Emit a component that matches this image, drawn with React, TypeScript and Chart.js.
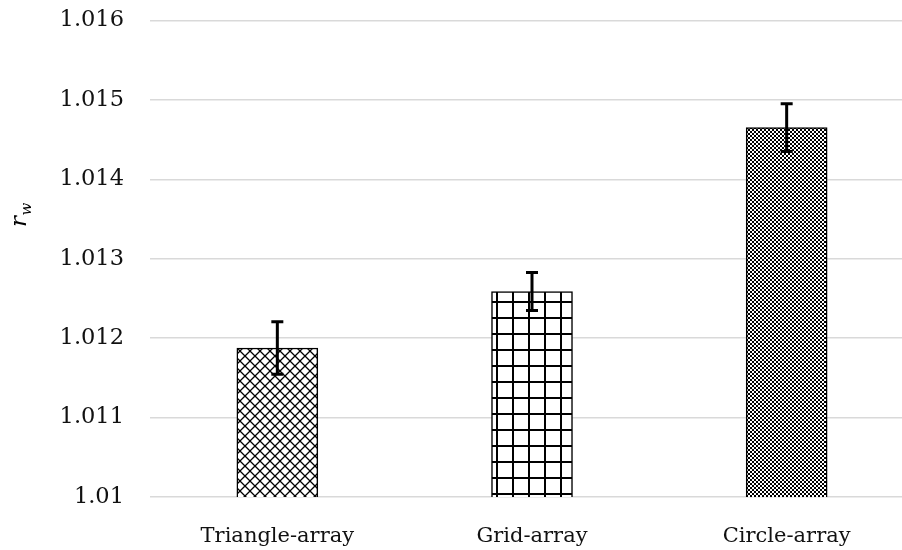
import React, { useEffect, useRef } from "react";
import { Chart, registerables } from "chart.js";

Chart.register(...registerables);

const categories = ["Triangle-array", "Grid-array", "Circle-array"];
const values = [1.011876, 1.012588, 1.014652];
const errors = [0.00033, 0.00024, 0.0003];
const yTickLabels = ["1.01", "1.011", "1.012", "1.013", "1.014", "1.015", "1.016"];
const Y_MIN = 1.01;
const Y_MAX = 1.016;
const Y_STEP = 0.001;

const FONT = "'DejaVu Serif', 'Liberation Serif', serif";
const SHIFT = 19;

function makeTile(size: number, draw: (c: CanvasRenderingContext2D) => void): CanvasPattern {
  const cv = document.createElement("canvas");
  cv.width = size;
  cv.height = size;
  const c = cv.getContext("2d")!;
  c.fillStyle = "#fff";
  c.fillRect(0, 0, size, size);
  draw(c);
  return c.createPattern(cv, "repeat")!;
}

function makePatterns(): CanvasPattern[] {
  const diag = makeTile(10, (c) => {
    c.strokeStyle = "#000";
    c.lineWidth = 1.3;
    c.beginPath();
    c.moveTo(-1, -1);
    c.lineTo(11, 11);
    c.moveTo(11, -1);
    c.lineTo(-1, 11);
    c.stroke();
  });
  const grid = makeTile(16, (c) => {
    c.fillStyle = "#000";
    c.fillRect(0, 0, 2, 16);
    c.fillRect(0, 0, 16, 2);
  });
  const checker = makeTile(4, (c) => {
    c.fillStyle = "#000";
    c.fillRect(0, 0, 2, 2);
    c.fillRect(2, 2, 2, 2);
  });
  return [diag, grid, checker];
}

const errorBarPlugin = {
  id: "errorBars",
  afterDatasetsDraw(chart: any) {
    const meta = chart.getDatasetMeta(0);
    const y = chart.scales.y;
    const ctx = chart.ctx;
    ctx.save();
    ctx.strokeStyle = "#000";
    ctx.lineWidth = 3;
    ctx.lineCap = "butt";
    meta.data.forEach((bar: any, i: number) => {
      const x = bar.x;
      const top = y.getPixelForValue(values[i] + errors[i]);
      const bot = y.getPixelForValue(values[i] - errors[i]);
      ctx.beginPath();
      ctx.moveTo(x, top);
      ctx.lineTo(x, bot);
      ctx.moveTo(x - 6, top);
      ctx.lineTo(x + 6, top);
      ctx.moveTo(x - 6, bot);
      ctx.lineTo(x + 6, bot);
      ctx.stroke();
    });
    ctx.restore();
  },
};

const yTitlePlugin = {
  id: "yTitle",
  afterDraw(chart: any) {
    const ctx = chart.ctx;
    ctx.save();
    ctx.translate(26, 227 + SHIFT);
    ctx.rotate(-Math.PI / 2);
    ctx.fillStyle = "#000";
    ctx.textBaseline = "alphabetic";
    ctx.textAlign = "left";
    ctx.font = `italic 23px ${FONT}`;
    ctx.fillText("r", 0, 0);
    const w = ctx.measureText("r").width;
    ctx.font = `italic 15px ${FONT}`;
    ctx.fillText("w", w + 0.5, 5);
    ctx.restore();
  },
};

export default function App() {
  const ref = useRef<HTMLCanvasElement | null>(null);
  useEffect(() => {
    if (!ref.current) return;
    const patterns = makePatterns();
    const chart = new Chart(ref.current, {
      type: "bar",
      data: {
        labels: categories,
        datasets: [
          {
            data: values,
            backgroundColor: patterns,
            borderColor: "#000",
            borderWidth: 1.5,
            borderSkipped: false,
            barThickness: 81,
          },
        ],
      },
      options: {
        animation: false,
        responsive: false,
        maintainAspectRatio: false,
        layout: { padding: { left: 0, right: 6, top: 1, bottom: 0 } },
        plugins: { legend: { display: false }, tooltip: { enabled: false } },
        scales: {
          x: {
            grid: { display: false },
            border: { display: false },
            ticks: { font: { family: FONT, size: 21 }, color: "#111", padding: 19, maxRotation: 0 },
            afterFit(scale: any) {
              scale.height = 53;
            },
          },
          y: {
            min: Y_MIN,
            max: Y_MAX,
            border: { display: false },
            grid: { color: "#d9d9d9", lineWidth: 1.5, drawTicks: false },
            ticks: {
              stepSize: Y_STEP,
              padding: 26,
              font: { family: FONT, size: 22.5 },
              color: "#111",
              callback: (_v: any, i: number) => yTickLabels[i],
            },
            afterFit(scale: any) {
              scale.width = 150;
            },
          },
        },
      },
      plugins: [errorBarPlugin, yTitlePlugin],
    });
    return () => chart.destroy();
  }, []);
  return (
    <div style={{ position: "fixed", left: 0, top: 0, width: 902, height: 550, overflow: "hidden", background: "#fff" }}>
      <canvas ref={ref} width={920} height={550 + SHIFT} style={{ display: "block", marginTop: -SHIFT }} />
    </div>
  );
}
